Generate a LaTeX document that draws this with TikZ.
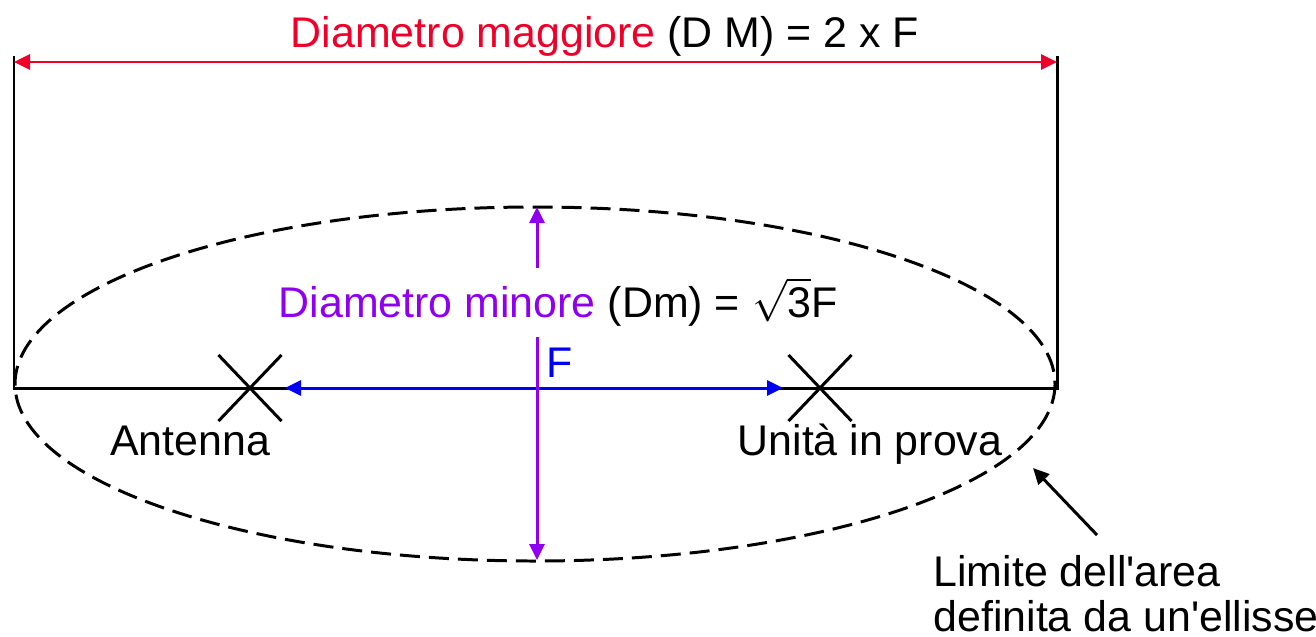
\documentclass[tikz,border=0pt]{standalone}
\usepackage{fontspec}
\setmainfont{Liberation Sans}[Ligatures=TeXOff]
\usetikzlibrary{arrows.meta,shapes.misc}
\definecolor{DMRed}{HTML}{F00028}
\definecolor{DmPurple}{HTML}{9000F0}
\definecolor{FBlue}{HTML}{0000F5}

\begin{document}
\begin{tikzpicture}[
	x=0.01cm, y=-0.01cm,
	line width=0.85pt,
	every node/.style={font=\fontsize{12.2}{12.8}\selectfont, inner sep=0pt},
	lbl/.style={anchor=base},
	cross/.style={draw, cross out, minimum width=0.6cm, minimum height=0.63cm},
	dim/.style={{Triangle[length=1.6mm,width=1.5mm]}-{Triangle[length=1.6mm,width=1.5mm]}},
	tip/.style={-{Triangle[length=1.6mm,width=1.5mm]}},
	limit/.style={dash pattern=on 2mm off 0.9mm}
]
\useasboundingbox (0,0) rectangle (1316,636);

\coordinate (leftTop) at (14,56);
\coordinate (rightTop) at (1057,56);
\coordinate (leftEnd) at (14,388);
\coordinate (rightEnd) at (1057,388);
\coordinate (dmL) at (14,62);
\coordinate (dmR) at (1057,62);
\coordinate (fL) at (285,388);
\coordinate (fR) at (783,388);
\coordinate (minTop) at (537,207);
\coordinate (minGapT) at (537,268);
\coordinate (minGapB) at (537,337);
\coordinate (minBot) at (537,560);
\coordinate (limTip) at (1033,468);
\coordinate (limTail) at (1097,535);

\draw[limit] (535,384) ellipse [x radius=520, y radius=177];
\draw (leftTop) -- (leftEnd) -- (rightEnd) -- (rightTop);

\node[cross] (ant) at (250,388) {};
\node[cross] (dut) at (820,388) {};

\draw[dim, DMRed] (dmL) -- (dmR);
\draw[dim, FBlue] (fL) -- (fR);
\draw[tip, DmPurple] (minGapT) -- (minTop);
\draw[tip, DmPurple] (minGapB) -- (minBot);
\draw[tip] (limTail) -- (limTip);

\node[lbl] (title) at (605,47) {\textcolor{DMRed}{Diametro maggiore} (D M) = 2 x F};
\node[lbl] (minor) at (558,317) {\textcolor{DmPurple}{Diametro minore} (Dm) = $\sqrt{\mbox{3}}$F};
\node[lbl, text=FBlue] (flen) at (560,377) {F};
\node[lbl] (antLbl) at (190,455) {Antenna};
\node[lbl] (dutLbl) at (870,455) {Unità in prova};
\node[anchor=north west, align=left] (limLbl) at (932,554) {Limite dell'area\\definita da un'ellisse};
\end{tikzpicture}
\end{document}
